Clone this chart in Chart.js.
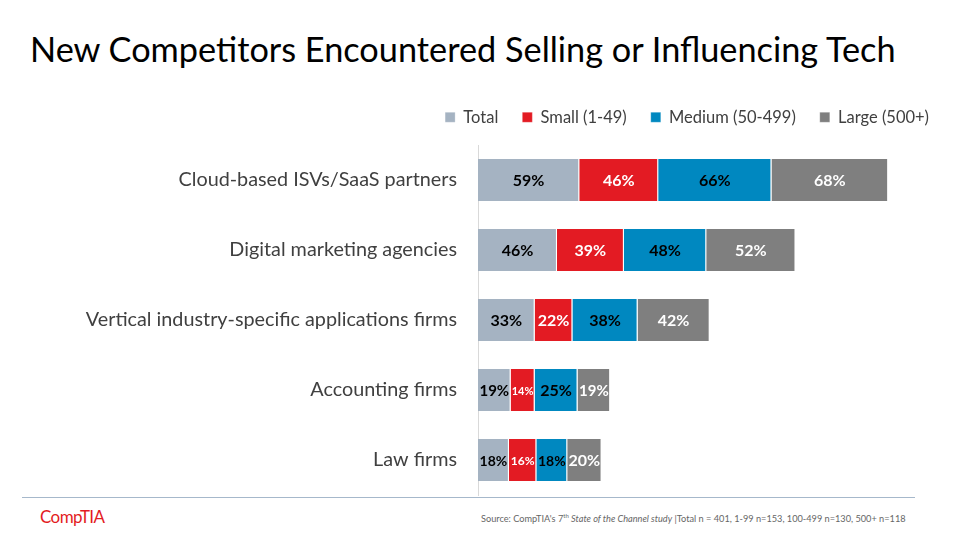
<!DOCTYPE html>
<html>
<head>
<meta charset="utf-8">
<script src="https://cdn.jsdelivr.net/npm/chart.js@4.4.1/dist/chart.umd.min.js"></script>
<style>
  body { margin: 0; width: 960px; height: 540px; background: #fff; position: relative; overflow: hidden; font-family: Lato, "Open Sans", sans-serif; }
  #title { position: absolute; left: 30px; top: 29px; font-size: 34.3px; line-height: 40px; color: #000; white-space: nowrap; }
  #wrap { position: absolute; left: 0; top: 85px; width: 960px; height: 435px; }
  #rule { position: absolute; left: 22px; top: 497px; width: 893px; height: 1px; background: #a6b8cb; }
  #logo { position: absolute; left: 40px; top: 506px; font-size: 17px; color: #e31b23; letter-spacing: -0.6px; }
  #source { position: absolute; left: 481px; top: 512px; font-size: 9.2px; color: #666; white-space: nowrap; }
</style>
</head>
<body>
<div id="title">New Competitors Encountered Selling or Influencing Tech</div>
<div id="rule"></div>
<div id="logo">CompTIA</div>
<div id="source">Source: CompTIA's 7<sup style="font-size:6px">th</sup> <i>State of the Channel study</i> |Total n = 401, 1-99 n=153, 100-499 n=130, 500+ n=118</div>
<div id="wrap"><canvas id="chart"></canvas></div>

<script>
// Chart data
const categories = ['Cloud-based ISVs/SaaS partners', 'Digital marketing agencies', 'Vertical industry-specific applications firms', 'Accounting firms', 'Law firms'];
const totalValues = [59, 46, 33, 19, 18];
const smallValues = [46, 39, 22, 14, 16];
const mediumValues = [66, 48, 38, 25, 18];
const largeValues = [68, 52, 42, 19, 20];

const FONT = 'Lato, "Open Sans", sans-serif';

/**
 * Draw value labels in the middle of each bar segment
 */
const valueLabels = {
    id: 'valueLabels',
    afterDatasetsDraw(chart) {
        const ctx = chart.ctx;
        chart.data.datasets.forEach((ds, i) => {
            const meta = chart.getDatasetMeta(i);
            meta.data.forEach((bar, j) => {
                const text = ds.data[j] + '%';
                const w = Math.abs(bar.x - bar.base);
                let size = 16;
                ctx.font = 'bold ' + size + 'px ' + FONT;
                while (ctx.measureText(text).width > w - 2 && size > 9) {
                    size--;
                    ctx.font = 'bold ' + size + 'px ' + FONT;
                }
                ctx.fillStyle = ds.labelColor;
                ctx.textAlign = 'center';
                ctx.textBaseline = 'middle';
                ctx.fillText(text, (bar.x + bar.base) / 2, bar.y + 1);
            });
        });
    }
};

/**
 * Fix legend height so the plot area starts where the reference does
 */
const legendHeight = {
    id: 'legendHeight',
    beforeInit(chart) {
        const origFit = chart.legend.fit;
        chart.legend.fit = function() {
            origFit.bind(chart.legend)();
            this.height = 60;
        };
    }
};

document.addEventListener('DOMContentLoaded', function() {
    const canvas = document.getElementById('chart');
    new Chart(canvas, {
        type: 'bar',
        data: {
            labels: categories,
            datasets: [
                { label: 'Total', data: totalValues, backgroundColor: '#a5b3c2', labelColor: '#000' },
                { label: 'Small (1-49)', data: smallValues, backgroundColor: '#e31b23', labelColor: '#fff' },
                { label: 'Medium (50-499)', data: mediumValues, backgroundColor: '#0088c0', labelColor: '#000' },
                { label: 'Large (500+)', data: largeValues, backgroundColor: '#7f7f7f', labelColor: '#fff' }
            ]
        },
        options: {
            indexAxis: 'y',
            responsive: true,
            maintainAspectRatio: false,
            animation: false,
            layout: { padding: { right: 7, top: 0, bottom: 0, left: 0 } },
            datasets: {
                bar: {
                    barPercentage: 0.6,
                    categoryPercentage: 1,
                    borderColor: '#fff',
                    borderWidth: { left: 0, right: 1, top: 0, bottom: 0 },
                    borderSkipped: false
                }
            },
            scales: {
                x: {
                    stacked: true,
                    display: false,
                    min: 0,
                    max: 276.8
                },
                y: {
                    stacked: true,
                    grid: { display: false },
                    border: { display: true, color: '#d9d9d9', width: 1 },
                    ticks: {
                        color: '#404040',
                        padding: 13,
                        font: { family: FONT, size: 19.8 }
                    },
                    afterFit: function(scale) { scale.width = 478; }
                }
            },
            plugins: {
                legend: {
                    position: 'top',
                    align: 'end',
                    labels: {
                        boxWidth: 10,
                        boxHeight: 10,
                        padding: 24,
                        color: '#404040',
                        font: { family: FONT, size: 16.5 }
                    }
                },
                tooltip: { enabled: false }
            }
        },
        plugins: [valueLabels, legendHeight]
    });
});
</script>
</body>
</html>
